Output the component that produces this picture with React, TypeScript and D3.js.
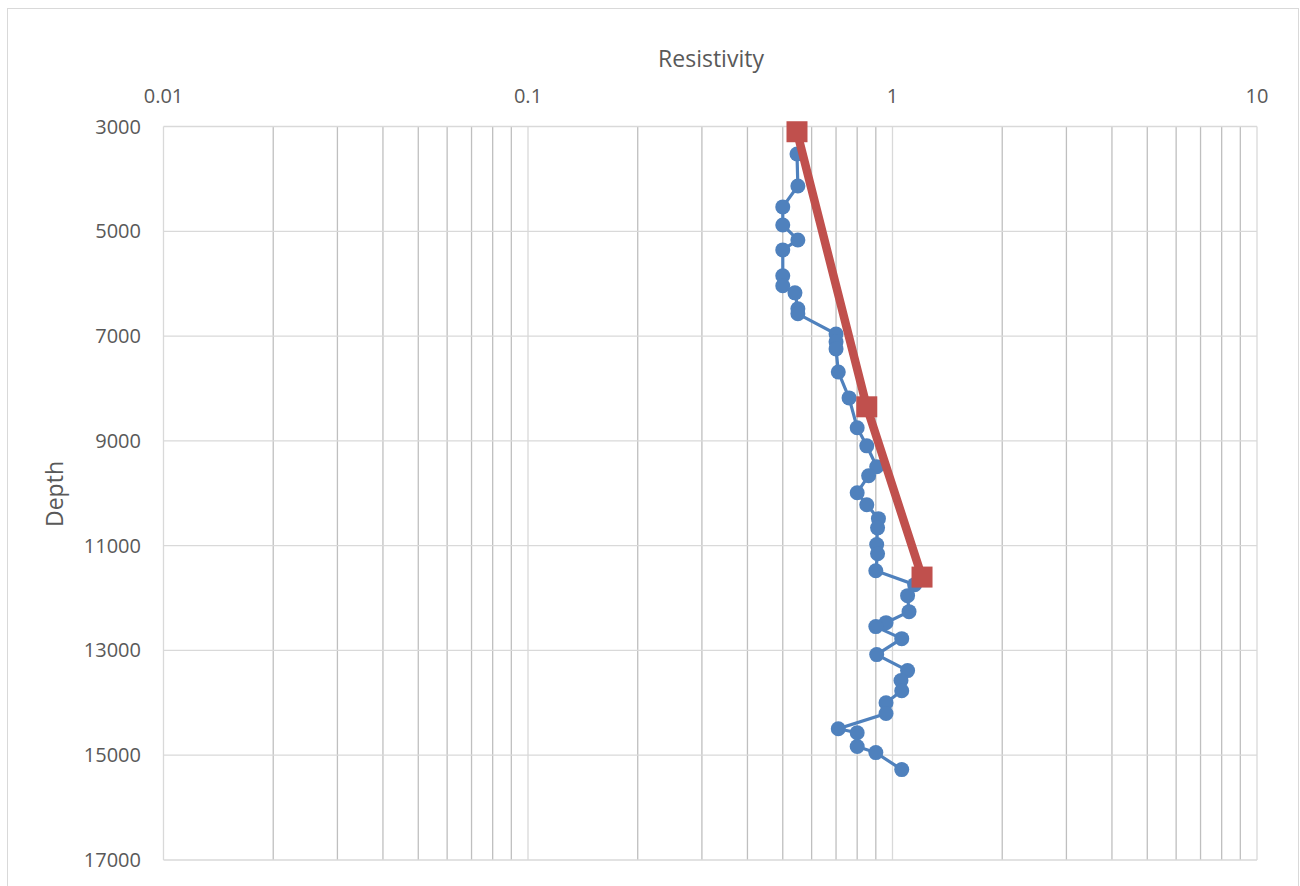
import React from 'react';
import * as d3 from 'd3';

// measured resistivity vs depth
const measuredDepth = [
  3525, 4135, 4535, 4880, 5165, 5355, 5850, 6040, 6175, 6480, 6575,
  6960, 7110, 7245, 7685, 8180, 8750, 9095, 9495, 9665, 9990, 10220,
  10485, 10660, 10980, 11155, 11480, 11745, 11955, 12260, 12470, 12545,
  12775, 13080, 13385, 13575, 13770, 14000, 14205, 14495, 14570, 14835,
  14950, 15275,
];
const measuredRes = [
  0.547, 0.55, 0.5, 0.5, 0.55, 0.5, 0.5, 0.5, 0.54, 0.55, 0.55,
  0.7, 0.7, 0.7, 0.71, 0.76, 0.8, 0.85, 0.905, 0.86, 0.8, 0.85,
  0.915, 0.91, 0.905, 0.91, 0.9, 1.15, 1.1, 1.11, 0.96, 0.9,
  1.06, 0.905, 1.1, 1.055, 1.06, 0.96, 0.96, 0.71, 0.8, 0.8,
  0.9, 1.06,
];

// trend line
const trendDepth = [3100, 8350, 11600];
const trendRes = [0.547, 0.85, 1.205];

const xTicks = [0.01, 0.1, 1, 10];
const yTicks = [3000, 5000, 7000, 9000, 11000, 13000, 15000, 17000];

const W = 1300;
const H = 886;
const FONT = '"Open Sans", "Liberation Sans", sans-serif';

export default function App() {
  const left = 163.5, right = 1257, top = 126.5, bottom = 860;

  const x = d3.scaleLog().domain([0.01, 10]).range([left, right]);
  const y = d3.scaleLinear().domain([3000, 17000]).range([top, bottom]);

  const minor: number[] = [];
  [0.01, 0.1, 1].forEach(d => {
    for (let k = 2; k <= 9; k++) minor.push(d * k);
  });

  const line = d3.line<[number, number]>()
    .x(d => x(d[0]))
    .y(d => y(d[1]));

  const measured = measuredRes.map((r, i) => [r, measuredDepth[i]] as [number, number]);
  const trend = trendRes.map((r, i) => [r, trendDepth[i]] as [number, number]);

  return (
    <div style={{ position: 'absolute', left: 0, top: 0 }}>
      <svg width={W} height={H} style={{ display: 'block', background: '#fff' }}>
        <rect x={7.5} y={8.5} width={1291} height={900} fill="#fff" stroke="#d9d9d9" />

        {minor.map(v => (
          <line key={'m' + v} x1={x(v)} x2={x(v)} y1={top} y2={bottom}
            stroke="#bfbfbf" strokeWidth={1.3} />
        ))}
        {yTicks.map(v => (
          <line key={'h' + v} x1={left} x2={right} y1={y(v)} y2={y(v)}
            stroke="#d9d9d9" strokeWidth={1.3} />
        ))}
        {xTicks.map(v => (
          <line key={'v' + v} x1={x(v)} x2={x(v)} y1={top} y2={bottom}
            stroke="#d9d9d9" strokeWidth={1.3} />
        ))}

        {xTicks.map(v => (
          <text key={'xt' + v} x={x(v)} y={103} textAnchor="middle"
            fontFamily={FONT} fontSize={20} fill="#595959">{String(v)}</text>
        ))}
        {yTicks.map(v => (
          <text key={'yt' + v} x={141} y={y(v) + 7} textAnchor="end"
            fontFamily={FONT} fontSize={20} fill="#595959">{String(v)}</text>
        ))}

        <text x={711} y={67} textAnchor="middle" fontFamily={FONT} fontSize={23} fill="#595959">
          Resistivity
        </text>
        <text transform="translate(63,494) rotate(-90)" textAnchor="middle"
          fontFamily={FONT} fontSize={23} fill="#595959">Depth</text>

        <path d={line(measured) || ''} fill="none" stroke="#4f81bd" strokeWidth={3.2} />
        {measured.map((d, i) => (
          <circle key={'c' + i} cx={x(d[0])} cy={y(d[1])} r={7.5} fill="#4f81bd" />
        ))}

        <path d={line(trend) || ''} fill="none" stroke="#c0504d" strokeWidth={8.5} />
        {trend.map((d, i) => (
          <rect key={'s' + i} x={x(d[0]) - 10.5} y={y(d[1]) - 10.5} width={21} height={21} fill="#c0504d" />
        ))}
      </svg>
    </div>
  );
}
